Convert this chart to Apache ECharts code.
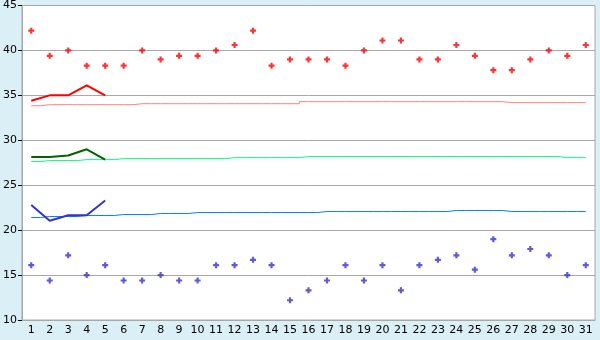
<!DOCTYPE html>
<html>
<head>
<meta charset="utf-8">
<script src="https://cdn.jsdelivr.net/npm/echarts@6/dist/echarts.min.js"></script>
<style>
  html, body { margin: 0; padding: 0; background: #daeff6; }
  #chart { width: 600px; height: 340px; }
</style>
</head>
<body>
<div id="chart"></div>
<script>
// 日期 1..31
const days = ['1','2','3','4','5','6','7','8','9','10','11','12','13','14','15','16','17','18','19','20','21','22','23','24','25','26','27','28','29','30','31'];

// 上方散点 (红)
const highPoints = [42.2, 39.4, 40.0, 38.3, 38.3, 38.3, 40.0, 39.0, 39.4, 39.4,
  40.0, 40.6, 42.2, 38.3, 39.0, 39.0, 39.0, 38.3, 40.0, 41.1,
  41.1, 39.0, 39.0, 40.6, 39.4, 37.8, 37.8, 39.0, 40.0, 39.4, 40.6];

// 下方散点 (蓝)
const lowPoints = [16.1, 14.4, 17.2, 15.0, 16.1, 14.4, 14.4, 15.0, 14.4, 14.4,
  16.1, 16.1, 16.7, 16.1, 12.2, 13.3, 14.4, 16.1, 14.4, 16.1,
  13.3, 16.1, 16.7, 17.2, 15.6, 19.0, 17.2, 17.9, 17.2, 15.0, 16.1];

// 前5天的折线
const redLine = [34.4, 35.0, 35.0, 36.1, 35.0];
const greenLine = [28.15, 28.15, 28.3, 29.0, 27.85];
const blueLine = [22.8, 21.05, 21.65, 21.65, 23.3];

// 细线 (逐日)
const pinkRef = [33.85, 33.96, 33.96, 33.96, 33.96, 33.96, 34.07, 34.07, 34.07, 34.07,
  34.07, 34.07, 34.07, 34.07, 34.07, 34.3, 34.3, 34.3, 34.3, 34.3,
  34.3, 34.3, 34.3, 34.3, 34.3, 34.3, 34.19, 34.19, 34.19, 34.19, 34.19];
const greenRef = [27.63, 27.74, 27.74, 27.85, 27.85, 27.96, 27.96, 27.96, 27.96, 27.96,
  27.96, 28.07, 28.07, 28.07, 28.07, 28.19, 28.19, 28.19, 28.19, 28.19,
  28.19, 28.19, 28.19, 28.19, 28.19, 28.19, 28.19, 28.19, 28.19, 28.07, 28.07];
const blueRef = [21.41, 21.52, 21.52, 21.63, 21.63, 21.74, 21.74, 21.85, 21.85, 21.96,
  21.96, 21.96, 21.96, 21.96, 21.96, 21.96, 22.07, 22.07, 22.07, 22.07,
  22.07, 22.07, 22.07, 22.19, 22.19, 22.19, 22.07, 22.07, 22.07, 22.07, 22.07];

// 小十字/菱形标记
const plusMark = 'path://M1.6,0H3.4V1.6H5V3.4H3.4V5H1.6V3.4H0V1.6H1.6Z';
const font = 'DejaVu Sans';

function refLine(data, color) {
  return {
    type: 'line',
    data: data,
    step: 'middle',
    symbol: 'none',
    silent: true,
    lineStyle: { color: color, width: 1 },
    z: 2
  };
}

function mainLine(data, color, width) {
  return {
    type: 'line',
    data: data,
    symbol: 'none',
    silent: true,
    lineStyle: { color: color, width: width },
    z: 3
  };
}

function dots(data, color) {
  return {
    type: 'scatter',
    data: data,
    symbol: plusMark,
    symbolSize: 6,
    silent: true,
    itemStyle: { color: color },
    z: 4
  };
}

const chart = echarts.init(document.getElementById('chart'));
chart.setOption({
  backgroundColor: '#daeff6',
  animation: false,
  grid: {
    left: 20, right: 5, top: 5, bottom: 20,
    show: true,
    backgroundColor: '#ffffff',
    borderColor: '#a8a8a8',
    borderWidth: 1
  },
  xAxis: {
    type: 'category',
    data: days,
    boundaryGap: true,
    axisLine: { lineStyle: { color: '#a8a8a8', width: 1 } },
    axisTick: { alignWithLabel: true, length: 4, lineStyle: { color: '#000000' } },
    axisLabel: { color: '#000000', fontFamily: font, fontSize: 11, margin: 5, interval: 0 }
  },
  yAxis: {
    type: 'value',
    min: 10,
    max: 45,
    interval: 5,
    axisLine: { show: true, lineStyle: { color: '#a8a8a8', width: 1 } },
    axisTick: { show: true, length: 4, lineStyle: { color: '#000000' } },
    axisLabel: { color: '#000000', fontFamily: font, fontSize: 11, margin: 5 },
    splitLine: { lineStyle: { color: '#a8a8a8', width: 1 } }
  },
  series: [
    refLine(pinkRef, '#ff8080'),
    refLine(greenRef, '#00ff80'),
    refLine(blueRef, '#0080ff'),
    mainLine(redLine, '#ff0000', 2),
    mainLine(greenLine, '#006400', 2),
    mainLine(blueLine, '#3333cc', 2),
    dots(highPoints, '#ff0000'),
    dots(lowPoints, '#3333cc')
  ]
});
</script>
</body>
</html>
